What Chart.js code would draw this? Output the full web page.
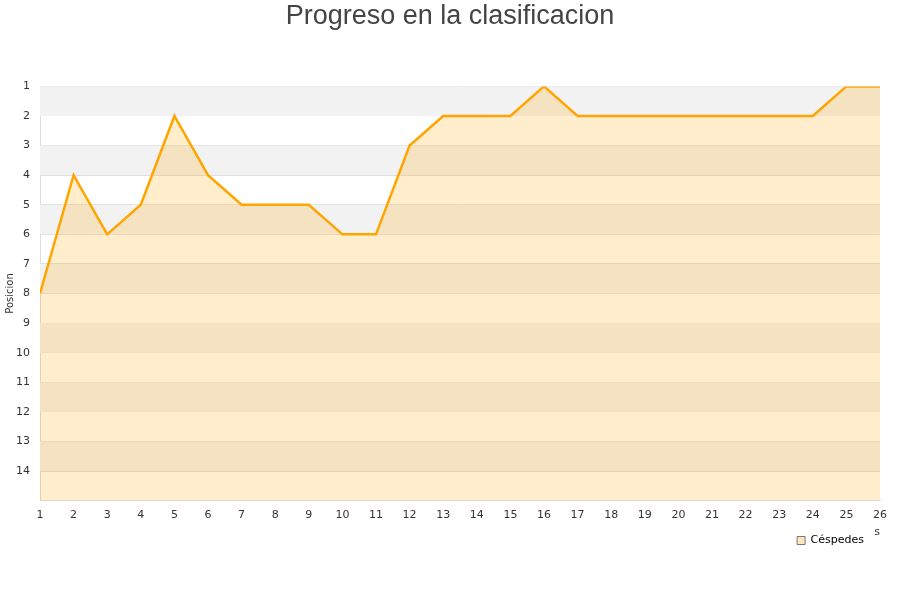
<!DOCTYPE html>
<html>
<head>
<meta charset="utf-8">
<script src="https://cdn.jsdelivr.net/npm/chart.js@4/dist/chart.umd.min.js"></script>
<style>
  body { margin: 0; background: #fff; }
</style>
</head>
<body>
<canvas id="myChart" width="900" height="600"></canvas>
<script>
// jornadas y posiciones
var jornadas = [1,2,3,4,5,6,7,8,9,10,11,12,13,14,15,16,17,18,19,20,21,22,23,24,25,26];
var posicion = [8,4,6,5,2,4,5,5,5,6,6,3,2,2,2,1,2,2,2,2,2,2,2,2,1,1];
var equipo = 'Céspedes';
var titulo = 'Progreso en la clasificacion';

var puntos = [];
for (let i = 0; i < jornadas.length; i++) {
    puntos[i] = {x: jornadas[i], y: posicion[i]};
}

// bandas grises alternas
var bandas = {
    id: 'bandas',
    afterLayout: function(chart) {
        // leyenda un poco mas a la izquierda
        chart.legend.right = 866;
    },
    beforeDatasetsDraw: function(chart) {
        let ctx = chart.ctx, a = chart.chartArea, y = chart.scales.y;
        ctx.save();
        for (let v = 1; v < 15; v += 2) {
            let t = y.getPixelForValue(v), b = y.getPixelForValue(v + 1);
            ctx.fillStyle = '#f2f2f2';
            ctx.fillRect(a.left, t, a.right - a.left, b - t);
        }
        ctx.restore();
    }
};

var ctx = document.getElementById('myChart').getContext('2d');
new Chart(ctx, {
    type: 'line',
    data: {
        datasets: [{
            label: equipo,
            data: puntos,
            borderColor: '#ffa500',
            backgroundColor: 'rgba(255,165,0,0.2)',
            borderWidth: 2.5,
            pointRadius: 0,
            tension: 0,
            fill: {value: 15}
        }]
    },
    options: {
        responsive: false,
        animation: false,
        layout: {padding: {left: 0, right: 0, top: 0, bottom: 44}},
        plugins: {
            title: {
                display: true,
                text: titulo,
                color: '#444',
                font: {family: 'Liberation Sans', size: 27, weight: 'normal'},
                padding: {top: 0, bottom: 54}
            },
            legend: {
                position: 'bottom',
                align: 'end',
                labels: {
                    boxWidth: 8,
                    boxHeight: 8,
                    padding: 2,
                    color: '#222',
                    font: {family: 'DejaVu Sans', size: 11},
                    generateLabels: function(chart) {
                        return [{
                            text: equipo,
                            fillStyle: '#fde6bd',
                            strokeStyle: '#777',
                            lineWidth: 1,
                            datasetIndex: 0
                        }];
                    }
                }
            },
            tooltip: {enabled: false}
        },
        scales: {
            x: {
                type: 'linear',
                min: 1,
                max: 26,
                ticks: {stepSize: 1, color: '#333', font: {family: 'DejaVu Sans', size: 11}, maxRotation: 0, padding: 0},
                grid: {display: false},
                border: {color: '#ddd'},
                title: {display: true, text: 's', align: 'end', color: '#333', font: {family: 'DejaVu Sans', size: 11}, padding: {top: 4, bottom: -6}}
            },
            y: {
                type: 'linear',
                reverse: true,
                min: 1,
                max: 15,
                afterFit: function(s) { s.width = 40; },
                ticks: {
                    stepSize: 1,
                    color: '#333',
                    font: {family: 'DejaVu Sans', size: 11},
                    padding: 10,
                    callback: function(v) { return v < 15 ? v : ''; }
                },
                grid: {color: '#ddd', drawTicks: false},
                border: {color: '#ddd'},
                title: {display: true, text: 'Posicion', color: '#333', font: {family: 'DejaVu Sans', size: 10}, padding: {top: 4, bottom: 0}}
            },
            // eje vacio a la derecha, solo para dejar margen
            margen: {
                type: 'linear',
                position: 'right',
                display: true,
                afterFit: function(s) { s.width = 20; },
                ticks: {display: false},
                grid: {display: false},
                border: {display: false}
            }
        }
    },
    plugins: [bandas]
});
</script>
</body>
</html>
